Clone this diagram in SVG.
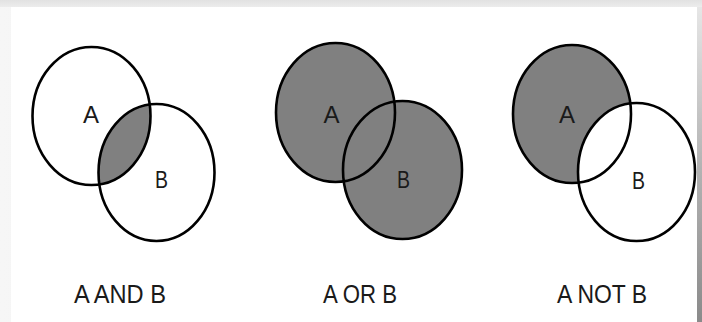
<svg xmlns="http://www.w3.org/2000/svg" width="702" height="322" viewBox="0 0 702 322">
<defs>
<style>
.c{stroke:#000;stroke-width:2.6;fill:none}
.g{fill:#808080}
.w{fill:#fff}
.t{font-family:"Liberation Sans",Arial,sans-serif;font-size:24px;fill:#1a1a1a;text-anchor:middle}
.lb{font-family:"Liberation Sans",Arial,sans-serif;font-size:25px;fill:#1a1a1a;text-anchor:middle}
</style>
<linearGradient id="topg" x1="0" y1="0" x2="0" y2="1">
<stop offset="0" stop-color="#e2e2e2"/><stop offset="1" stop-color="#ececec"/>
</linearGradient>
<linearGradient id="leftg" x1="0" y1="0" x2="1" y2="0">
<stop offset="0" stop-color="#f6f6f6"/><stop offset="1" stop-color="#e6e6e6"/>
</linearGradient>
<linearGradient id="rightg" x1="0" y1="0" x2="0" y2="1">
<stop offset="0" stop-color="#e6e6e6"/><stop offset="0.5" stop-color="#b4b4b4"/><stop offset="1" stop-color="#8a8a8a"/>
</linearGradient>
<clipPath id="clipA1"><ellipse cx="91.5" cy="116" rx="59" ry="69"/></clipPath>
</defs>
<rect x="0" y="0" width="702" height="322" fill="url(#leftg)"/>
<rect x="0" y="0" width="702" height="7" fill="url(#topg)"/>
<rect x="697" y="7" width="5" height="315" fill="url(#rightg)"/>
<rect x="11" y="7" width="686" height="315" fill="#fff"/>

<g id="and-diagram">
<ellipse class="g" cx="156.5" cy="172.5" rx="58" ry="68.5" clip-path="url(#clipA1)"/>
<g id="and-A"><ellipse class="c" cx="91.5" cy="116" rx="59" ry="69"/><text class="t" x="91" y="123">A</text></g>
<g id="and-B"><ellipse class="c" cx="156.5" cy="172.5" rx="58" ry="68.5"/><text class="t" x="161.5" y="188" textLength="13" lengthAdjust="spacingAndGlyphs">B</text></g>
<text class="lb" x="120" y="303" textLength="92" lengthAdjust="spacingAndGlyphs">A AND B</text>
</g>

<g id="or-diagram">
<ellipse class="g" cx="335.5" cy="112.5" rx="59.5" ry="69.5"/>
<ellipse class="g" cx="402.5" cy="170" rx="59.5" ry="69"/>
<g id="or-A"><ellipse class="c" cx="335.5" cy="112.5" rx="59.5" ry="69.5"/><text class="t" x="331.5" y="123">A</text></g>
<g id="or-B"><ellipse class="c" cx="402.5" cy="170" rx="59.5" ry="69"/><text class="t" x="403.5" y="188" textLength="13" lengthAdjust="spacingAndGlyphs">B</text></g>
<text class="lb" x="360" y="303" textLength="74" lengthAdjust="spacingAndGlyphs">A OR B</text>
</g>

<g id="not-diagram">
<ellipse class="g" cx="572" cy="114" rx="59" ry="69"/>
<ellipse class="w" cx="636.5" cy="172" rx="58.5" ry="69"/>
<g id="not-A"><ellipse class="c" cx="572" cy="114" rx="59" ry="69"/><text class="t" x="567" y="123">A</text></g>
<g id="not-B"><ellipse class="c" cx="636.5" cy="172" rx="58.5" ry="69"/><text class="t" x="638.5" y="189" textLength="13" lengthAdjust="spacingAndGlyphs">B</text></g>
<text class="lb" x="602" y="303" textLength="90" lengthAdjust="spacingAndGlyphs">A NOT B</text>
</g>
</svg>
